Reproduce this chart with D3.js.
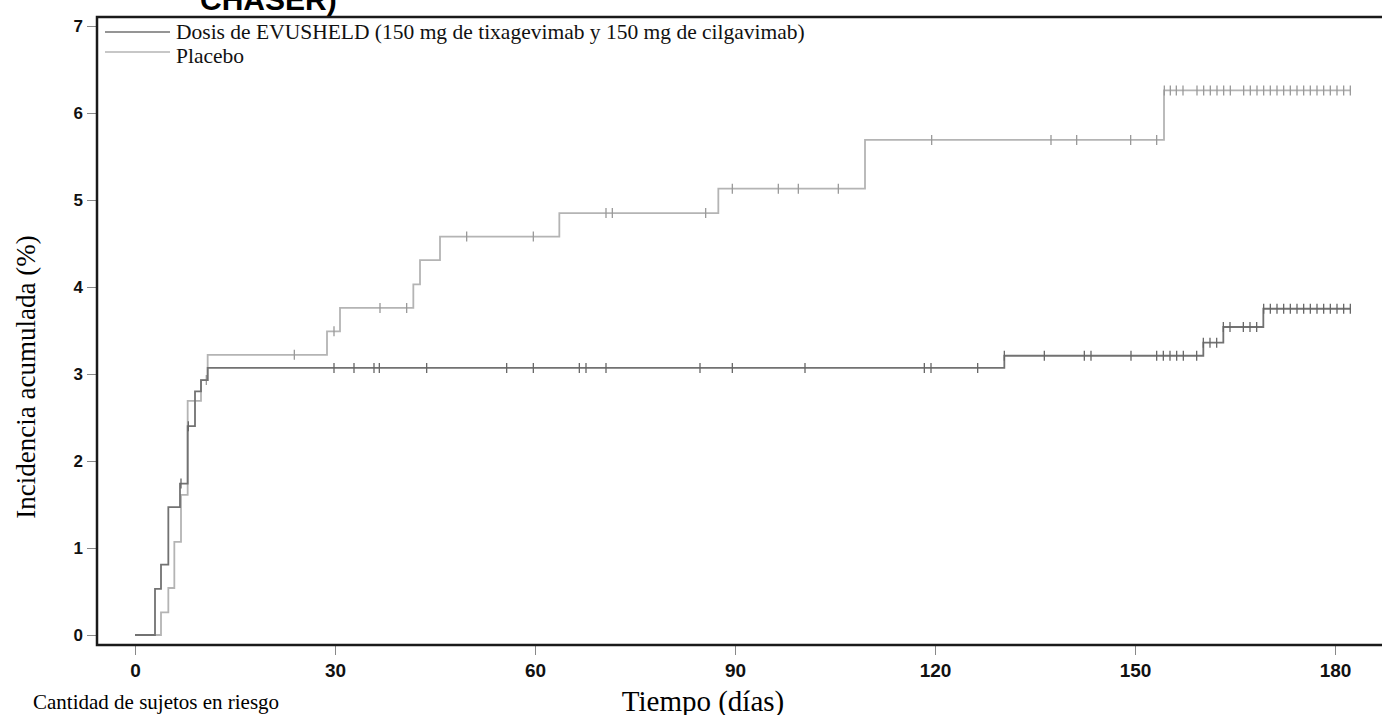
<!DOCTYPE html>
<html>
<head>
<meta charset="utf-8">
<script src="https://cdn.jsdelivr.net/npm/d3@7"></script>
<style>
  html, body { margin: 0; padding: 0; background: #fff; overflow: hidden; }
  svg { display: block; }
</style>
</head>
<body>
<div id="chart"></div>
<script>
/* ============================================================
   Kaplan-Meier style cumulative incidence (EVUSHELD vs Placebo)
   ============================================================ */

// ---- data ----
const xTicks = [0, 30, 60, 90, 120, 150, 180];
const yTicks = [0, 1, 2, 3, 4, 5, 6, 7];

const seriesNames = [
  'Dosis de EVUSHELD (150 mg de tixagevimab y 150 mg de cilgavimab)',
  'Placebo'
];

// step points: time (days) and cumulative incidence (%)
const evuTimes  = [0, 3.0, 3.9, 5.0, 6.75, 7.9, 9.0, 9.9, 10.9, 130.4, 160.25, 163.25, 169.25, 182.4];
const evuValues = [0, 0.53, 0.81, 1.47, 1.74, 2.40, 2.80, 2.93, 3.07, 3.21, 3.36, 3.54, 3.75, 3.75];

const placeboTimes  = [0, 3.9, 5.0, 5.9, 6.9, 7.9, 9.9, 10.9, 28.8, 30.75, 41.75, 42.75, 45.75, 63.65, 87.5, 109.5, 154.35, 182.4];
const placeboValues = [0, 0.26, 0.54, 1.07, 1.61, 2.69, 2.93, 3.22, 3.49, 3.76, 4.03, 4.31, 4.58, 4.85, 5.13, 5.69, 6.26, 6.26];

// censoring times
const evuCensor = [6.9, 8.0, 29.85, 32.85, 35.85, 36.65, 43.75, 55.75, 59.75, 66.65, 67.65, 70.65,
  84.75, 89.6, 100.5, 118.4, 119.4, 126.4, 130.4, 136.4, 142.4, 143.4, 149.4, 153.25, 154.25,
  155.25, 156.25, 157.25, 159.25, 160.25, 161.25, 162.25, 163.25, 164.25, 166.25, 167.25, 168.25,
  169.3, 170.3, 171.3, 172.3, 173.3, 174.3, 175.3, 176.3, 177.3, 178.3, 179.3, 180.3, 181.3, 182.3];

const placeboCensor = [10.7, 23.9, 29.85, 36.75, 40.75, 49.75, 59.75, 70.65, 71.6, 85.6, 89.6, 96.5,
  99.5, 105.5, 119.5, 137.4, 141.25, 149.35, 153.25, 154.4, 155.3, 156.2, 157.2, 159.3, 160.3,
  161.3, 162.3, 163.3, 164.3, 166.3, 167.3, 168.3, 169.3, 170.3, 171.3, 172.3, 173.3, 174.3,
  175.3, 176.3, 177.3, 178.3, 179.3, 180.3, 181.3, 182.3];

// ---- layout ----
const W = 1382, H = 715;
const C = { evu: '#727272', placebo: '#b4b4b4', evuTick: '#666', placeboTick: '#999' };
const SERIF = "'Liberation Serif', 'Times New Roman', serif";
const SANS = "'Liberation Sans', Arial, sans-serif";

const svg = d3.select('#chart').append('svg')
  .attr('width', W).attr('height', H);

const x = d3.scaleLinear().domain([0, 180]).range([135, 1335]);
const y = d3.scaleLinear().domain([0, 7]).range([635, 26]);

const frame = { left: 97, top: 17, bottom: 645, right: W };

// title fragment, cut off at the top of the picture
svg.append('text')
  .attr('x', 200).attr('y', 10)
  .style('font-family', SANS).style('font-weight', 'bold').style('font-size', '30px')
  .text('CHASER)');

// axes ticks
const yAxis = svg.append('g')
  .attr('transform', `translate(${frame.left - 1},0)`)
  .call(d3.axisLeft(y).tickValues(yTicks).tickFormat(d3.format('d')).tickSize(9).tickPadding(4));
const xAxis = svg.append('g')
  .attr('transform', `translate(0,${frame.bottom + 1})`)
  .call(d3.axisBottom(x).tickValues(xTicks).tickSize(9).tickPadding(9));

[yAxis, xAxis].forEach(a => {
  a.select('.domain').remove();
  a.selectAll('line').attr('stroke', '#888').attr('stroke-width', 1);
  a.selectAll('text')
    .attr('fill', '#111')
    .style('font-family', SANS).style('font-weight', 'bold');
});
yAxis.selectAll('text').style('font-size', '17px');
xAxis.selectAll('text').style('font-size', '19px');

// frame: left, top, bottom
svg.append('path')
  .attr('d', `M${frame.right},${frame.top} H${frame.left} V${frame.bottom} H${frame.right}`)
  .attr('fill', 'none').attr('stroke', '#1a1a1a').attr('stroke-width', 2.5);

// step curves
const step = d3.line()
  .x(d => x(d[0])).y(d => y(d[1]))
  .curve(d3.curveStepAfter);

function valueAt(times, values, t) {
  const i = d3.bisectRight(times, t) - 1;
  return values[Math.max(0, i)];
}

function drawCurve(times, values, censor, color, tickColor) {
  svg.append('path')
    .datum(d3.zip(times, values))
    .attr('d', step)
    .attr('fill', 'none')
    .attr('stroke', color)
    .attr('stroke-width', 1.8);

  svg.append('g').selectAll('line')
    .data(censor)
    .join('line')
    .attr('x1', d => x(d)).attr('x2', d => x(d))
    .attr('y1', d => y(valueAt(times, values, d)) - 5)
    .attr('y2', d => y(valueAt(times, values, d)) + 5)
    .attr('stroke', tickColor)
    .attr('stroke-width', 1.3);
}

drawCurve(placeboTimes, placeboValues, placeboCensor, C.placebo, C.placeboTick);
drawCurve(evuTimes, evuValues, evuCensor, C.evu, C.evuTick);

// legend
const legendColors = [C.evu, C.placebo];
const legendLineY = [32, 52];
const legendTextY = [39, 63];
seriesNames.forEach((name, i) => {
  svg.append('line')
    .attr('x1', 105).attr('x2', 170)
    .attr('y1', legendLineY[i]).attr('y2', legendLineY[i])
    .attr('stroke', legendColors[i]).attr('stroke-width', 1.5);
  svg.append('text')
    .attr('x', 176).attr('y', legendTextY[i])
    .attr('fill', '#111')
    .style('font-family', SERIF).style('font-size', '21.5px')
    .text(name);
});

// axis titles
svg.append('text')
  .attr('transform', 'rotate(-90)')
  .attr('x', -377).attr('y', 35)
  .attr('text-anchor', 'middle')
  .style('font-family', SERIF).style('font-size', '27px')
  .text('Incidencia acumulada (%)');

svg.append('text')
  .attr('x', 703).attr('y', 711)
  .attr('text-anchor', 'middle')
  .style('font-family', SERIF).style('font-size', '29px')
  .text('Tiempo (días)');

svg.append('text')
  .attr('x', 33).attr('y', 709)
  .style('font-family', SERIF).style('font-size', '21px')
  .text('Cantidad de sujetos en riesgo');
</script>
</body>
</html>
